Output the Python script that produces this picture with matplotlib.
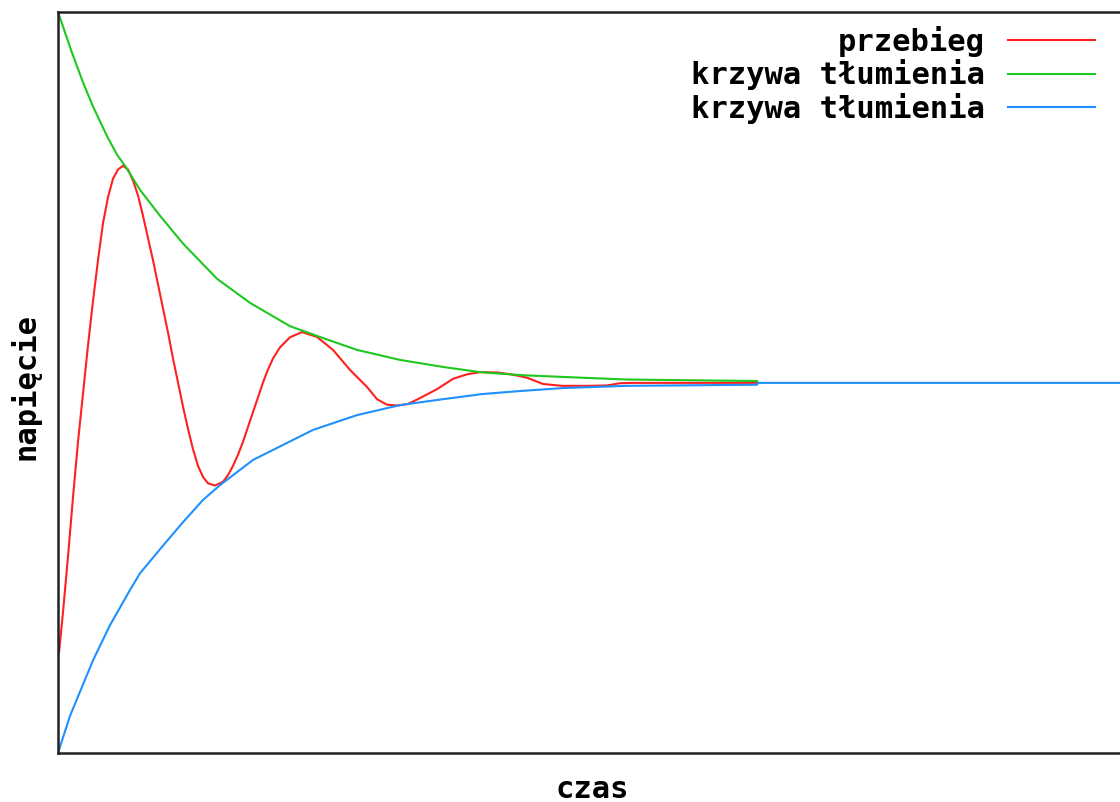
import matplotlib
matplotlib.use("Agg")
import matplotlib.pyplot as plt

# time (arbitrary units) and voltage values
t_red = [0.01, 0.05, 0.10, 0.15, 0.20, 0.25, 0.30, 0.35, 0.40, 0.45, 0.50, 0.55, 0.60, 0.65,
         0.70, 0.75, 0.80, 0.85, 0.90, 0.95, 1.00, 1.05, 1.10, 1.15, 1.20, 1.25, 1.30, 1.35,
         1.40, 1.45, 1.50, 1.57, 1.65, 1.70, 1.75, 1.80, 1.85, 1.90, 1.95, 2.00, 2.05, 2.10,
         2.15, 2.22, 2.32, 2.44, 2.59, 2.75, 2.92, 3.09, 3.19, 3.29, 3.40, 3.50, 3.62, 3.79,
         3.95, 4.09, 4.22, 4.40, 4.55, 4.69, 4.85, 5.04, 5.30, 5.49, 5.62, 5.75, 6.45, 6.99]
v_red = [-0.730, -0.620, -0.470, -0.310, -0.160, -0.030, 0.100, 0.220, 0.330, 0.430, 0.500,
         0.550, 0.575, 0.585, 0.575, 0.545, 0.505, 0.450, 0.390, 0.330, 0.265, 0.200, 0.135,
         0.065, 0.000, -0.065, -0.125, -0.180, -0.225, -0.255, -0.272, -0.278, -0.268, -0.250,
         -0.225, -0.195, -0.160, -0.120, -0.080, -0.040, 0.000, 0.035, 0.065, 0.095, 0.122,
         0.136, 0.123, 0.088, 0.034, -0.012, -0.045, -0.060, -0.062, -0.058, -0.042, -0.018,
         0.010, 0.022, 0.028, 0.027, 0.021, 0.013, -0.004, -0.009, -0.009, -0.008, -0.002,
         -0.001, -0.001, -0.001]

t_green = [0, 0.14, 0.25, 0.35, 0.49, 0.59, 0.67, 0.82, 1.02, 1.25, 1.59, 1.92, 2.32, 2.65,
           2.99, 3.42, 3.85, 4.22, 4.62, 5.05, 5.69, 6.99]
v_green = [1.0, 0.890, 0.810, 0.745, 0.665, 0.615, 0.585, 0.520, 0.450, 0.375, 0.280, 0.215,
           0.152, 0.120, 0.088, 0.061, 0.042, 0.028, 0.020, 0.015, 0.008, 0.004]

t_blue = [0, 0.12, 0.25, 0.35, 0.52, 0.72, 0.82, 1.02, 1.25, 1.45, 1.62, 1.95, 2.55, 2.99,
          3.42, 3.85, 4.25, 4.62, 5.05, 5.69, 6.99, 7.00, 10.7]
v_blue = [-1.0, -0.900, -0.815, -0.750, -0.655, -0.560, -0.515, -0.450, -0.377, -0.317,
          -0.277, -0.209, -0.128, -0.088, -0.061, -0.045, -0.031, -0.023, -0.015, -0.009,
          -0.006, -0.001, -0.001]

labels = ["przebieg", "krzywa tłumienia", "krzywa tłumienia"]
colors = ["#ff2020", "#1ec81e", "#1e90ff"]

W, H = 1120, 802
fig = plt.figure(figsize=(W / 100, H / 100), dpi=100)
ax = fig.add_axes([58 / W, (H - 753) / H, 1070 / W, 741 / H])

font = dict(family="DejaVu Sans Mono", weight="bold", size=22)

ax.plot(t_red, v_red, color=colors[0], lw=1.5, label=labels[0])
ax.plot(t_green, v_green, color=colors[1], lw=1.5, label=labels[1])
ax.plot(t_blue, v_blue, color=colors[2], lw=1.5, label=labels[2])

ax.set_xlim(0, 10.7)
ax.set_ylim(-1, 1)
ax.set_xticks([])
ax.set_yticks([])
for s in ["left", "top", "bottom"]:
    ax.spines[s].set_linewidth(1.8)
    ax.spines[s].set_color("#222222")
ax.spines["right"].set_visible(False)

ax.set_xlabel("czas", **font)
ax.xaxis.label.set_va("baseline")
ax.xaxis.set_label_coords((592 - 58) / 1070, (753 - 798) / 741)

ax.set_ylabel("napięcie", **font)
ax.yaxis.label.set_va("baseline")
ax.yaxis.set_label_coords((34 - 58) / 1070, (753 - 386) / 741)

leg = ax.legend(loc="upper right", bbox_to_anchor=(1095 / W, (H - 26) / H),
                bbox_transform=fig.transFigure, frameon=False, markerfirst=False,
                prop=dict(family="DejaVu Sans Mono", weight="bold", size=22),
                handlelength=2.85, handletextpad=0.75, labelspacing=0.08,
                borderpad=0, borderaxespad=0)

fig.savefig("out.png", dpi=100)
